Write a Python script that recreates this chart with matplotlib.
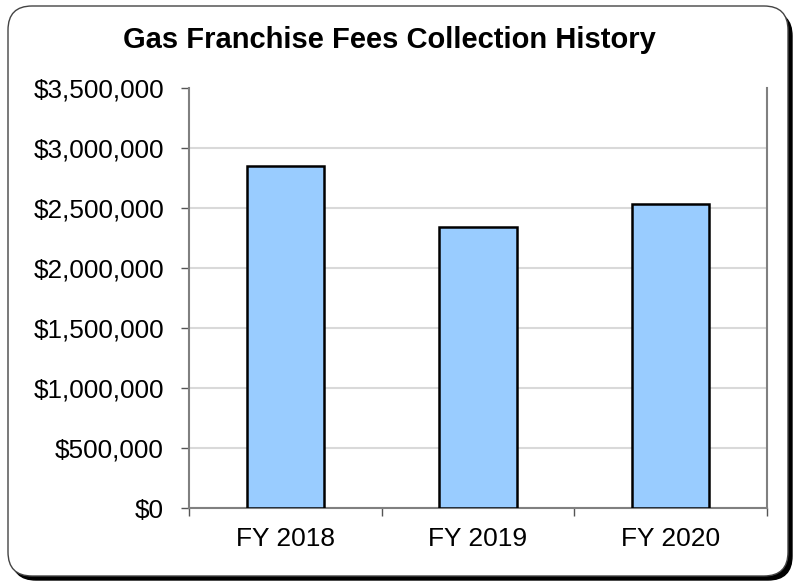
import matplotlib
matplotlib.use('Agg')
import matplotlib.pyplot as plt
from matplotlib.patches import FancyBboxPatch
from matplotlib.ticker import FuncFormatter, FixedLocator

# data
years = ['FY 2018', 'FY 2019', 'FY 2020']
fees = [2850000, 2340000, 2535000]
y_ticks = [0, 500000, 1000000, 1500000, 2000000, 2500000, 3000000, 3500000]

plt.rcParams['font.family'] = ['Liberation Sans', 'DejaVu Sans']

fig = plt.figure(figsize=(7.99, 5.81), dpi=100)

# rounded frame with shadow (inches)
shadow = FancyBboxPatch((0.12, 0.01), 7.80, 5.68,
                        boxstyle='round,pad=0,rounding_size=0.24',
                        transform=fig.dpi_scale_trans, facecolor='black',
                        edgecolor='black', zorder=0)
frame = FancyBboxPatch((0.08, 0.05), 7.80, 5.70,
                       boxstyle='round,pad=0,rounding_size=0.24',
                       transform=fig.dpi_scale_trans, facecolor='white',
                       edgecolor='#444444', linewidth=1.0, zorder=1)
fig.patches.extend([shadow, frame])

ax = fig.add_axes([189 / 799, 1 - 508 / 581, (767 - 189) / 799, (508 - 88) / 581])
ax.set_zorder(2)
ax.patch.set_alpha(0)

x = range(len(years))
ax.bar(x, fees, width=0.4, color='#99CCFF', edgecolor='black', linewidth=1.8, zorder=3)

ax.set_xlim(-0.5, 2.5)
ax.set_ylim(0, 3500000)
ax.set_yticks(y_ticks)
ax.yaxis.set_major_formatter(FuncFormatter(lambda v, p: f'${v:,.0f}'))
ax.grid(axis='y', color='#d9d9d9', linewidth=1.5, zorder=0)
ax.yaxis.get_gridlines()[-1].set_visible(False)

ax.set_xticks(list(x))
ax.set_xticklabels(years)
ax.xaxis.set_minor_locator(FixedLocator([-0.5, 0.5, 1.5, 2.5]))
ax.tick_params(axis='x', which='major', length=0, pad=14, labelsize=19)
ax.tick_params(axis='x', which='minor', length=6, width=1, color='#555555')
ax.tick_params(axis='y', length=6, width=1, color='#555555', pad=12, labelsize=18.8)

for side in ['left', 'bottom', 'right']:
    ax.spines[side].set_color('#808080')
    ax.spines[side].set_linewidth(1.5)
ax.spines['top'].set_visible(False)

fig.text(389 / 799, 1 - 40 / 581, 'Gas Franchise Fees Collection History', ha='center', va='center',
         fontsize=21, fontweight='bold')

fig.savefig('out.png', dpi=100)
